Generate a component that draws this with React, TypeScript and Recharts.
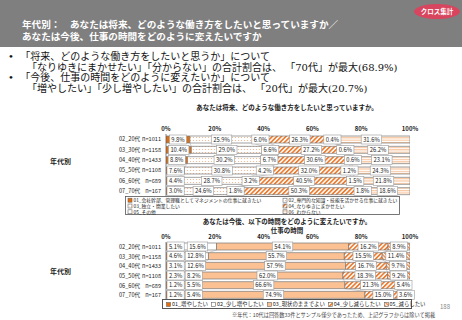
import React from "react";
import { BarChart, Bar, XAxis, YAxis, LabelList, Rectangle } from "recharts";

const ages = ["02_20代", "03_30代", "04_40代", "05_50代", "06_60代", "07_70代"];
const counts = [1011, 1158, 1433, 1108, 689, 167];
const ticks = [0, 20, 40, 60, 80, 100];

const workNames = [
  "01_会社幹部、管理職としてマネジメントの仕事に就きたい",
  "02_専門的な知識・技能を活かせる仕事に就きたい",
  "03_独立・開業したい",
  "04_なりゆきにまかせたい",
  "05_その他",
  "06_わからない",
];
const work01 = [9.8, 10.4, 8.8, 7.6, 4.4, 3.0];
const work02 = [25.9, 29.0, 30.2, 30.8, 28.7, 24.6];
const work03 = [6.0, 6.6, 6.7, 4.2, 3.2, 1.8];
const work04 = [26.3, 27.2, 30.6, 32.0, 40.5, 50.3];
const work05 = [0.4, 0.6, 0.6, 1.2, 1.5, 1.8];
const work06 = [31.6, 26.2, 23.1, 24.3, 21.8, 18.6];

const timeNames = ["01_増やしたい", "02_少し増やしたい", "03_現状のままでよい", "04_少し減らしたい", "05_減らしたい"];
const time01 = [5.1, 4.6, 3.1, 2.3, 1.2, 1.2];
const time02 = [15.6, 12.8, 12.6, 8.2, 5.5, 5.4];
const time03 = [54.1, 55.7, 57.9, 62.0, 66.6, 74.9];
const time04 = [16.2, 15.5, 16.7, 18.3, 21.3, 15.0];
const time05 = [8.9, 11.4, 9.7, 9.2, 5.4, 3.6];

const workSeries = [work01, work02, work03, work04, work05, work06];
const timeSeries = [time01, time02, time03, time04, time05];
const workFills = ["#e46c0a", "url(#pDots)", "url(#pFine)", "url(#pDiag)", "#ffffff", "url(#pHStripe)"];
const timeFills = ["#e46c0a", "#ffffff", "#fbc193", "url(#pDiag)", "url(#pDiag2)"];

const makeRows = (series: number[][]) =>
  ages.map((a, i) => {
    const row: Record<string, any> = { name: a, n: counts[i] };
    series.forEach((s, k) => (row[`s${k}`] = s[i]));
    return row;
  });
const workData = makeRows(workSeries);
const timeData = makeRows(timeSeries);

const jp = '"Noto Sans CJK JP", sans-serif';
const serif = '"DejaVu Serif", "Noto Sans CJK JP", serif';

const fmt = (v: number) => `${v.toFixed(1)}%`;
const boxW = (v: number) => fmt(v).length * 3.3 + 4;

// label boxes: centred on their segment, nudged right so they never overlap
const makeLabel = (series: number[][], k: number) => (props: any) => {
  const { x, y, width, height, value, index } = props;
  const cy = y + height / 2;
  let left = x + width / 2 - boxW(value) / 2;
  if (index !== undefined && value > 0) {
    const ppu = width / value;
    const vals = series.map((s) => s[index]);
    const x0 = x - vals.slice(0, k).reduce((a, b) => a + b, 0) * ppu;
    let prevRight = x0;
    let cum = 0;
    for (let j = 0; j <= k; j++) {
      const w = boxW(vals[j]);
      const c = x0 + (cum + vals[j] / 2) * ppu;
      left = Math.max(c - w / 2, prevRight + 1);
      prevRight = left + w;
      cum += vals[j];
    }
  }
  const w = boxW(value);
  return (
    <g>
      <rect x={left} y={cy - 4.5} width={w} height={9} fill="#fff" stroke="#9a9a9a" strokeWidth={0.6} />
      <text x={left + w / 2} y={cy + 2.1} textAnchor="middle" fontSize={5.8} fontFamily={jp} fill="#222">
        {fmt(value)}
      </text>
    </g>
  );
};

// bar rectangle plus the thin series line to the same edge on the next row
const makeShape = (series: number[][], k: number, band: number) => (props: any) => {
  const { x, y, width, height, index, fill } = props;
  const v = series[k][index];
  let line = null;
  if (index < ages.length - 1 && v > 0) {
    const ppu = width / v;
    const cumHere = series.slice(0, k + 1).reduce((a, s) => a + s[index], 0);
    const cumNext = series.slice(0, k + 1).reduce((a, s) => a + s[index + 1], 0);
    const x0 = x + width - cumHere * ppu;
    line = (
      <line x1={x + width} y1={y + height} x2={x0 + cumNext * ppu} y2={y + band} stroke="#a0a0a0" strokeWidth={0.5} />
    );
  }
  return (
    <g>
      <Rectangle x={x} y={y} width={width} height={height} fill={fill} stroke="#7a7a7a" strokeWidth={0.7} />
      {line}
    </g>
  );
};

const AgeTick = (props: any) => {
  const { y, payload, index, data } = props;
  return (
    <text y={y + 2} fontSize={5.6} fontFamily={jp} fill="#222">
      <tspan x={119}>{payload.value}</tspan>
      <tspan x={161} textAnchor="end">{`n=${data[index]?.n ?? ""}`}</tspan>
    </text>
  );
};

const Swatch = ({ fill }: { fill: string }) => (
  <svg width={5} height={5} style={{ marginRight: 1, display: "block", flex: "none" }}>
    <rect x={0.5} y={0.5} width={4} height={4} fill={fill} stroke="#666" strokeWidth={0.6} />
  </svg>
);

function StackChart({ data, series, fills, top, height, barSize }: any) {
  const mTop = 8;
  const axisH = 8;
  const band = (height - mTop - axisH) / ages.length;
  return (
    <div style={{ position: "absolute", left: 0, top }}>
      <BarChart
        width={462}
        height={height}
        data={data}
        layout="vertical"
        margin={{ top: mTop, right: 52, bottom: 0, left: 0 }}
        barSize={barSize}
      >
        <XAxis
          type="number"
          orientation="top"
          domain={[0, 100]}
          allowDataOverflow
          ticks={ticks}
          interval={0}
          tickFormatter={(v: number) => `${v}%`}
          axisLine={false}
          tickLine={false}
          tickSize={0}
          tickMargin={3}
          height={axisH}
          tick={{ fontSize: 6, fontWeight: 700, fill: "#222", fontFamily: jp }}
        />
        <YAxis
          type="category"
          dataKey="name"
          width={166}
          interval={0}
          axisLine={{ stroke: "#666", strokeWidth: 0.8 }}
          tickLine={false}
          tick={<AgeTick data={data} />}
        />
        {fills.map((f: string, k: number) => (
          <Bar
            key={k}
            dataKey={`s${k}`}
            stackId="a"
            fill={f}
            shape={makeShape(series, k, band)}
            isAnimationActive={false}
          >
            <LabelList dataKey={`s${k}`} content={makeLabel(series, k)} />
          </Bar>
        ))}
      </BarChart>
    </div>
  );
}

export default function App() {
  return (
    <div style={{ position: "absolute", left: 0, top: 0, width: 462, height: 320, background: "#fff", overflow: "hidden", fontFamily: jp }}>
      <svg width={0} height={0} style={{ position: "absolute" }}>
        <defs>
          <pattern id="pDots" width={3} height={3} patternUnits="userSpaceOnUse">
            <rect width={3} height={3} fill="#fff" />
            <circle cx={1.5} cy={1.5} r={0.6} fill="#f4b183" />
          </pattern>
          <pattern id="pFine" width={2} height={2} patternUnits="userSpaceOnUse">
            <rect width={2} height={2} fill="#fff" />
            <rect width={1} height={1} fill="#fbe1cf" />
          </pattern>
          <pattern id="pDiag" width={3.2} height={3.2} patternUnits="userSpaceOnUse" patternTransform="rotate(45)">
            <rect width={3.2} height={3.2} fill="#fff" />
            <rect width={1.7} height={3.2} fill="#ed7d31" />
          </pattern>
          <pattern id="pDiag2" width={2.6} height={2.6} patternUnits="userSpaceOnUse" patternTransform="rotate(-45)">
            <rect width={2.6} height={2.6} fill="#fff" />
            <rect width={1.3} height={2.6} fill="#ed7d31" />
          </pattern>
          <pattern id="pHStripe" width={3} height={2.4} patternUnits="userSpaceOnUse">
            <rect width={3} height={2.4} fill="#fff" />
            <rect width={3} height={1.2} fill="#f8c6a0" />
          </pattern>
        </defs>
      </svg>

      <div style={{ position: "absolute", left: 0, top: 0, width: 462, height: 47, background: "#7f7f7f" }} />
      <div style={{ position: "absolute", left: 22, top: 19, color: "#fff", fontFamily: serif, fontWeight: 700, fontSize: 9.6, lineHeight: "12px", whiteSpace: "nowrap" }}>
        <div>年代別：　あなたは将来、どのような働き方をしたいと思っていますか／</div>
        <div>あなたは今後、仕事の時間をどのように変えたいですか</div>
      </div>
      <div style={{ position: "absolute", left: 414, top: 4, width: 46, height: 15, borderRadius: "50%", background: "#d8455e", color: "#fff", fontSize: 6.5, fontWeight: 700, textAlign: "center", lineHeight: "15px" }}>
        クロス集計
      </div>

      <div style={{ position: "absolute", left: 8, top: 52, fontFamily: serif, fontSize: 10, lineHeight: "10.5px", color: "#111", whiteSpace: "nowrap" }}>
        <div>•&nbsp;&nbsp;「将来、どのような働き方をしたいと思うか」について</div>
        <div style={{ paddingLeft: 19 }}>「なりゆきにまかせたい」「分からない」の合計割合は、 「70代」が最大(68.9%)</div>
        <div>•&nbsp;&nbsp;「今後、仕事の時間をどのように変えたいか」について</div>
        <div style={{ paddingLeft: 19 }}>「増やしたい」「少し増やしたい」の合計割合は、 「20代」が最大(20.7%)</div>
      </div>

      <div style={{ position: "absolute", left: 0, width: 574, top: 102, textAlign: "center", fontSize: 6.5, fontWeight: 700, color: "#222" }}>
        あなたは将来、どのような働き方をしたいと思っていますか。
      </div>
      <div style={{ position: "absolute", left: 50, top: 156, fontSize: 7, fontWeight: 700, color: "#222" }}>年代別</div>
      <StackChart data={workData} series={workSeries} fills={workFills} top={118} height={78} barSize={7} />

      <svg width={276} height={19} style={{ position: "absolute", left: 125, top: 196 }}>
        <rect x={0.5} y={0.5} width={274} height={18} fill="#fff" stroke="#555" strokeWidth={0.8} />
        {workNames.map((n, k) => {
          const col = k % 2;
          const row = Math.floor(k / 2);
          const x = col === 0 ? 3 : 158;
          const y = 1.8 + row * 5.8;
          return (
            <g key={k}>
              <rect x={x} y={y + 0.4} width={4} height={4} fill={workFills[k]} stroke="#666" strokeWidth={0.6} />
              <text x={x + 5.5} y={y + 4.3} fontSize={4.8} fontFamily={jp} fill="#222">
                {n}
              </text>
            </g>
          );
        })}
      </svg>

      <div style={{ position: "absolute", left: 0, width: 574, top: 217, textAlign: "center", fontSize: 6.5, fontWeight: 700, color: "#222", lineHeight: "9px" }}>
        <div>あなたは今後、以下の時間をどのように変えたいですか。</div>
        <div>仕事の時間</div>
      </div>
      <div style={{ position: "absolute", left: 50, top: 266, fontSize: 7, fontWeight: 700, color: "#222" }}>年代別</div>
      <StackChart data={timeData} series={timeSeries} fills={timeFills} top={226} height={74} barSize={7} />

      <div style={{ position: "absolute", left: 162, top: 299, width: 250, height: 10, border: "0.8px solid #555", boxSizing: "border-box", fontSize: 5.4, color: "#222", display: "flex", alignItems: "center", gap: 3, paddingLeft: 3, whiteSpace: "nowrap" }}>
        {timeNames.map((n, k) => (
          <span key={k} style={{ display: "flex", alignItems: "center" }}>
            <Swatch fill={timeFills[k]} />
            {n}
          </span>
        ))}
      </div>

      <div style={{ position: "absolute", left: 232, top: 311, fontSize: 5.2, color: "#444", whiteSpace: "nowrap" }}>
        ※年代：10代は回答数33件とサンプル僅少であったため、上記グラフからは除いて掲載
      </div>
      <div style={{ position: "absolute", left: 440, top: 302, fontSize: 6, color: "#888" }}>188</div>
    </div>
  );
}
